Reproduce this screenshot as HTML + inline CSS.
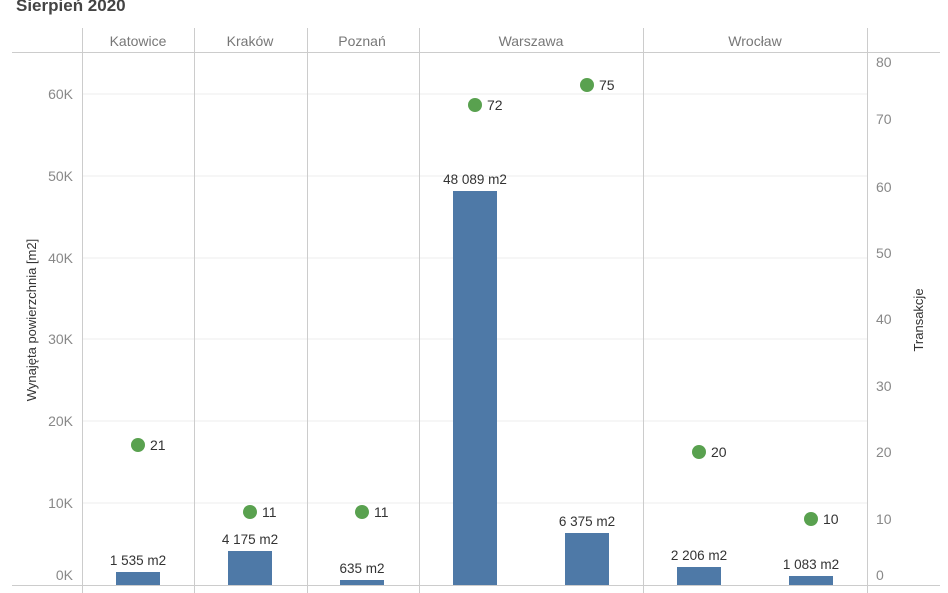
<!DOCTYPE html><html><head><style>body{margin:0;background:#fff}svg{display:block}text{font-family:"Liberation Sans",sans-serif}</style></head><body>
<svg width="948" height="593" viewBox="0 0 948 593">
<text x="16" y="11" font-size="17" font-weight="bold" fill="#444">Sierpień 2020</text>
<g stroke="#eee" stroke-width="1">
<line x1="82" x2="867" y1="94" y2="94"/><line x1="82" x2="867" y1="176" y2="176"/><line x1="82" x2="867" y1="258" y2="258"/><line x1="82" x2="867" y1="339" y2="339"/><line x1="82" x2="867" y1="421" y2="421"/><line x1="82" x2="867" y1="503" y2="503"/>
</g>
<g stroke="#ccc" stroke-width="1">
<line x1="12" x2="940" y1="52.5" y2="52.5"/>
<line x1="12" x2="940" y1="585.5" y2="585.5"/>
<line x1="82.5" x2="82.5" y1="28" y2="593"/><line x1="194.5" x2="194.5" y1="28" y2="593"/><line x1="307.5" x2="307.5" y1="28" y2="593"/><line x1="419.5" x2="419.5" y1="28" y2="593"/><line x1="643.5" x2="643.5" y1="28" y2="593"/><line x1="867.5" x2="867.5" y1="28" y2="593"/>
</g>
<g font-size="14" fill="#777" text-anchor="middle">
<text x="138" y="46">Katowice</text><text x="250" y="46">Kraków</text><text x="362" y="46">Poznań</text><text x="531" y="46">Warszawa</text><text x="755" y="46">Wrocław</text>
</g>
<g font-size="14" fill="#888" text-anchor="end">
<text x="73" y="99">60K</text><text x="73" y="181">50K</text><text x="73" y="263">40K</text><text x="73" y="344">30K</text><text x="73" y="426">20K</text><text x="73" y="508">10K</text><text x="73" y="580">0K</text>
</g>
<g font-size="14" fill="#888">
<text x="876" y="67">80</text><text x="876" y="124">70</text><text x="876" y="192">60</text><text x="876" y="258">50</text><text x="876" y="324">40</text><text x="876" y="391">30</text><text x="876" y="457">20</text><text x="876" y="524">10</text><text x="876" y="580">0</text>
</g>
<text transform="translate(36,320) rotate(-90)" font-size="13" fill="#333" text-anchor="middle">Wynajęta powierzchnia [m2]</text>
<text transform="translate(923,320) rotate(-90)" font-size="13" fill="#333" text-anchor="middle">Transakcje</text>
<g fill="#4e79a7">
<rect x="116" y="572" width="44" height="13"/><rect x="228" y="551" width="44" height="34"/><rect x="340" y="580" width="44" height="5"/><rect x="453" y="191" width="44" height="394"/><rect x="565" y="533" width="44" height="52"/><rect x="677" y="567" width="44" height="18"/><rect x="789" y="576" width="44" height="9"/>
</g>
<g font-size="13.5" fill="#333" text-anchor="middle">
<text x="138" y="565">1 535 m2</text><text x="250" y="544">4 175 m2</text><text x="362" y="573">635 m2</text><text x="475" y="184">48 089 m2</text><text x="587" y="526">6 375 m2</text><text x="699" y="560">2 206 m2</text><text x="811" y="569">1 083 m2</text>
</g>
<g fill="#59a14f">
<circle cx="138" cy="445" r="7"/><circle cx="250" cy="512" r="7"/><circle cx="362" cy="512" r="7"/><circle cx="475" cy="105" r="7"/><circle cx="587" cy="85" r="7"/><circle cx="699" cy="452" r="7"/><circle cx="811" cy="519" r="7"/>
</g>
<g font-size="14" fill="#333">
<text x="150" y="450">21</text><text x="262" y="517">11</text><text x="374" y="517">11</text><text x="487" y="110">72</text><text x="599" y="90">75</text><text x="711" y="457">20</text><text x="823" y="524">10</text>
</g>
</svg></body></html>
